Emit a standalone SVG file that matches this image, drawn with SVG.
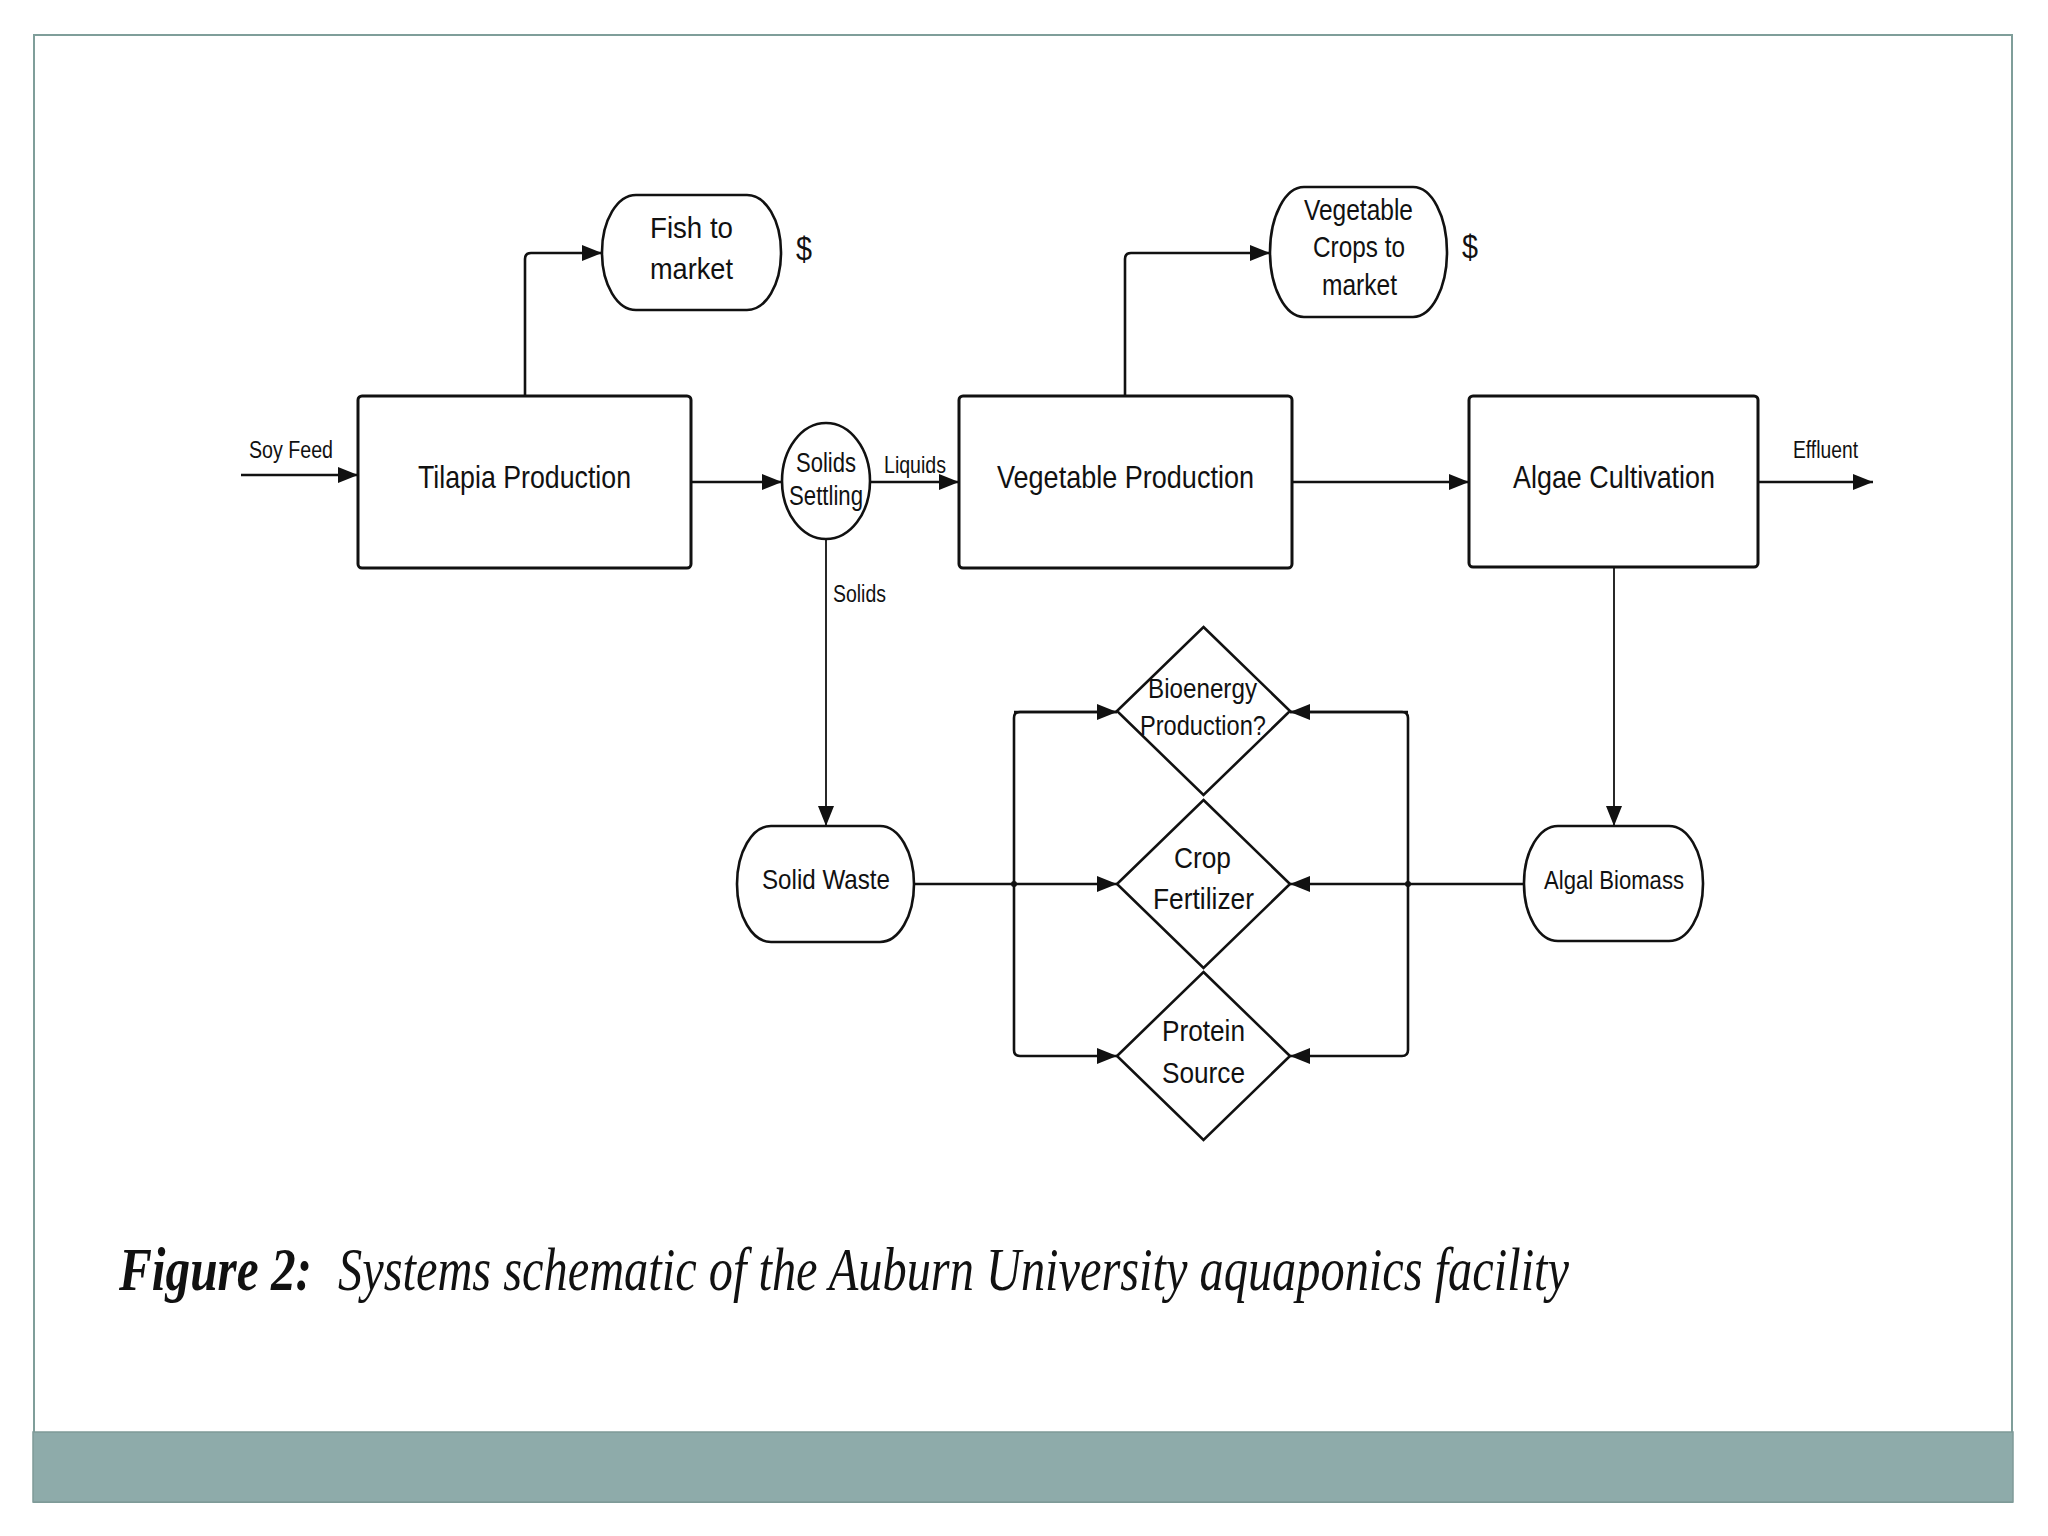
<svg xmlns="http://www.w3.org/2000/svg" width="2048" height="1536" viewBox="0 0 2048 1536">
<style>
.box{fill:#fff;stroke:#111;stroke-width:3}
.term{fill:#fff;stroke:#111;stroke-width:2.6}
.t{font-family:"Liberation Sans",Arial,sans-serif;fill:#111}
.c{fill:none;stroke:#111;stroke-width:2.6;stroke-linejoin:round}
.thin{fill:none;stroke:#111;stroke-width:1.8}
.cap{font-family:"Liberation Serif","Times New Roman",serif;font-style:italic;fill:#111}
</style>
<defs>
<marker id="ah" markerUnits="userSpaceOnUse" markerWidth="22" markerHeight="18" refX="20" refY="8" orient="auto">
<path d="M0,0 L20,8 L0,16 z" fill="#111"/>
</marker>
</defs>
<rect x="0" y="0" width="2048" height="1536" fill="#fff"/>
<g id="frame">
<rect x="34" y="35" width="1978" height="1467" fill="none" stroke="#7f9e9a" stroke-width="2"/>
<rect x="33" y="1432" width="1980" height="70" fill="#8eabaa" stroke="#7f9a98" stroke-width="1.5"/>
</g>
<g id="connectors">
<line class="c" x1="241" y1="475" x2="358" y2="475" marker-end="url(#ah)"/>
<path class="c" d="M525,396 V259 Q525,253 531,253 H602" marker-end="url(#ah)"/>
<line class="c" x1="691" y1="482" x2="782" y2="482" marker-end="url(#ah)"/>
<line class="c" x1="870" y1="482" x2="959" y2="482" marker-end="url(#ah)"/>
<line class="thin" x1="826" y1="539" x2="826" y2="826" marker-end="url(#ah)"/>
<path class="c" d="M1125,396 V259 Q1125,253 1131,253 H1270" marker-end="url(#ah)"/>
<line class="c" x1="1292" y1="482" x2="1469" y2="482" marker-end="url(#ah)"/>
<line class="c" x1="1758" y1="482" x2="1873" y2="482" marker-end="url(#ah)"/>
<line class="thin" x1="1614" y1="567" x2="1614" y2="826" marker-end="url(#ah)"/>
<line class="c" x1="914" y1="884" x2="1117" y2="884" marker-end="url(#ah)"/>
<path class="c" d="M1117,712 H1020 Q1014,712 1014,718 V1050 Q1014,1056 1020,1056 H1117" marker-end="url(#ah)"/>
<path class="c" d="M1014,712 H1117" marker-end="url(#ah)"/>
<line class="c" x1="1524" y1="884" x2="1290" y2="884" marker-end="url(#ah)"/>
<path class="c" d="M1290,712 H1402 Q1408,712 1408,718 V1050 Q1408,1056 1402,1056 H1290" marker-end="url(#ah)"/>
<path class="c" d="M1408,712 H1290" marker-end="url(#ah)"/>
<circle cx="1014" cy="884" r="3" fill="#111"/>
<circle cx="1408" cy="884" r="3" fill="#111"/>
<text class="t" x="249" y="458" font-size="23" textLength="84" lengthAdjust="spacingAndGlyphs">Soy Feed</text>
<text class="t" x="884" y="473" font-size="24" textLength="62" lengthAdjust="spacingAndGlyphs">Liquids</text>
<text class="t" x="833" y="602" font-size="23" textLength="53" lengthAdjust="spacingAndGlyphs">Solids</text>
<text class="t" x="1793" y="458" font-size="23" textLength="65" lengthAdjust="spacingAndGlyphs">Effluent</text>
</g>
<g id="tilapia">
<rect class="box" x="358" y="396" width="333" height="172" rx="4"/>
<text class="t" x="418" y="488" font-size="32" textLength="213" lengthAdjust="spacingAndGlyphs">Tilapia Production</text>
</g>
<g id="fish">
<rect class="term" x="602" y="195" width="179" height="115" rx="34" ry="57"/>
<text class="t" x="650" y="238" font-size="30" textLength="83" lengthAdjust="spacingAndGlyphs">Fish to</text>
<text class="t" x="650" y="279" font-size="30" textLength="83" lengthAdjust="spacingAndGlyphs">market</text>
<text class="t" x="796" y="260" font-size="33" textLength="16" lengthAdjust="spacingAndGlyphs">$</text>
</g>
<g id="settling">
<ellipse class="term" cx="826" cy="481" rx="44" ry="58"/>
<text class="t" x="796" y="472" font-size="27" textLength="60" lengthAdjust="spacingAndGlyphs">Solids</text>
<text class="t" x="789" y="505" font-size="27" textLength="74" lengthAdjust="spacingAndGlyphs">Settling</text>
</g>
<g id="vegprod">
<rect class="box" x="959" y="396" width="333" height="172" rx="4"/>
<text class="t" x="997" y="488" font-size="32" textLength="257" lengthAdjust="spacingAndGlyphs">Vegetable Production</text>
</g>
<g id="vegcrops">
<rect class="term" x="1270" y="187" width="177" height="130" rx="34" ry="65"/>
<text class="t" x="1304" y="220" font-size="29" textLength="109" lengthAdjust="spacingAndGlyphs">Vegetable</text>
<text class="t" x="1313" y="257" font-size="29" textLength="92" lengthAdjust="spacingAndGlyphs">Crops to</text>
<text class="t" x="1322" y="295" font-size="29" textLength="75" lengthAdjust="spacingAndGlyphs">market</text>
<text class="t" x="1462" y="258" font-size="33" textLength="16" lengthAdjust="spacingAndGlyphs">$</text>
</g>
<g id="algae">
<rect class="box" x="1469" y="396" width="289" height="171" rx="4"/>
<text class="t" x="1513" y="488" font-size="32" textLength="202" lengthAdjust="spacingAndGlyphs">Algae Cultivation</text>
</g>
<g id="solidwaste">
<rect class="term" x="737" y="826" width="177" height="116" rx="34" ry="58"/>
<text class="t" x="762" y="889" font-size="28" textLength="128" lengthAdjust="spacingAndGlyphs">Solid Waste</text>
</g>
<g id="algalbiomass">
<rect class="term" x="1524" y="826" width="179" height="115" rx="34" ry="57"/>
<text class="t" x="1544" y="889" font-size="26" textLength="140" lengthAdjust="spacingAndGlyphs">Algal Biomass</text>
</g>
<g id="bioenergy">
<path class="term" d="M1203.5,627 L1290,711 L1203.5,795 L1117,711 z"/>
<text class="t" x="1148" y="698" font-size="28" textLength="109" lengthAdjust="spacingAndGlyphs">Bioenergy</text>
<text class="t" x="1140" y="735" font-size="28" textLength="126" lengthAdjust="spacingAndGlyphs">Production?</text>
</g>
<g id="cropfert">
<path class="term" d="M1203.5,800 L1290,884 L1203.5,968 L1117,884 z"/>
<text class="t" x="1174" y="868" font-size="30" textLength="57" lengthAdjust="spacingAndGlyphs">Crop</text>
<text class="t" x="1153" y="909" font-size="30" textLength="101" lengthAdjust="spacingAndGlyphs">Fertilizer</text>
</g>
<g id="protein">
<path class="term" d="M1203.5,972 L1290,1056 L1203.5,1140 L1117,1056 z"/>
<text class="t" x="1162" y="1041" font-size="30" textLength="83" lengthAdjust="spacingAndGlyphs">Protein</text>
<text class="t" x="1162" y="1083" font-size="30" textLength="83" lengthAdjust="spacingAndGlyphs">Source</text>
</g>
<g id="caption">
<text class="cap" x="119" y="1290" font-size="62" font-weight="bold" textLength="193" lengthAdjust="spacingAndGlyphs">Figure 2:</text>
<text class="cap" x="338" y="1290" font-size="62" textLength="1231" lengthAdjust="spacingAndGlyphs">Systems schematic of the Auburn University aquaponics facility</text>
</g>
</svg>
